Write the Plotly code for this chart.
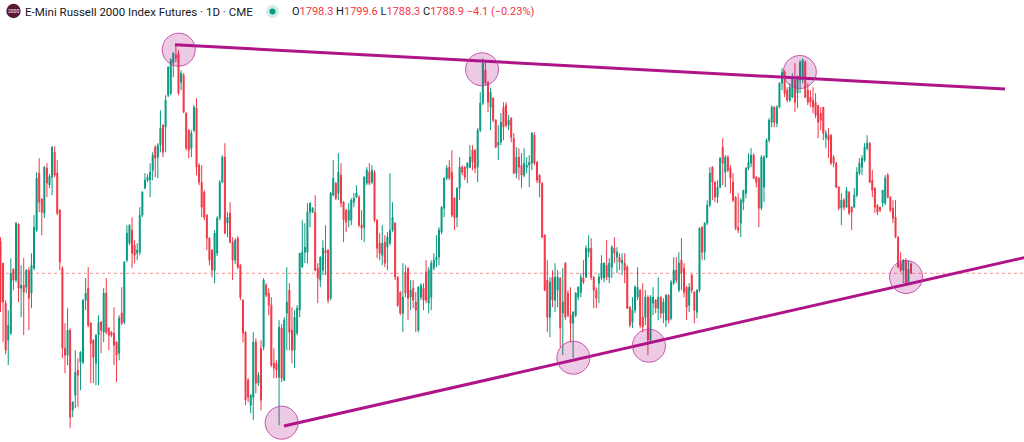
import plotly.graph_objects as go

# ---------------- data (daily OHLC) ----------------
opens = [
    1821,1799,1759,1722,1729,1793,1782,1838,1774,1777,1775,1792,1769,1794,1832,1889,1863,1849,1894,1877,
    1885,1910,1889,1852,1794,1714,1707,1732,1652,1667,1692,1700,1700,1762,1774,1739,1722,1699,1727,1740,
    1730,1769,1734,1730,1729,1720,1709,1749,1740,1802,1819,1832,1817,1809,1810,1847,1874,1882,1882,1892,
    1915,1905,1917,1937,1935,1967,1969,1999,2007,2009,1980,1987,1949,1932,1914,1932,1954,1897,1880,1870,
    1847,1824,1812,1792,1809,1844,1880,1905,1839,1849,1820,1802,1824,1797,1762,1730,1682,1657,1665,1720,
    1679,1714,1715,1777,1769,1757,1699,1699,1685,1734,1682,1749,1772,1732,1712,1729,1752,1795,1810,1810,
    1850,1850,1850,1794,1782,1792,1812,1812,1764,1867,1879,1869,1887,1860,1852,1842,1842,1860,1865,1865,
    1837,1835,1879,1890,1880,1890,1842,1819,1807,1820,1815,1819,1832,1839,1785,1770,1749,1790,1794,1765,
    1774,1760,1732,1765,1774,1790,1759,1765,1794,1802,1805,1830,1854,1884,1895,1890,1864,1845,1874,1895,
    1895,1894,1895,1912,1912,1895,1932,1959,1992,1980,1955,1964,1942,1917,1920,1955,1957,1937,1944,
    1924,1889,1905,1897,1887,1895,1897,1899,1927,1900,1887,1879,1827,1782,1745,1785,1762,1772,1784,
    1749,1799,1769,1747,1739,1747,1765,1770,1784,1785,1810,1814,1785,1772,1779,1784,1784,1797,1785,
    1795,1814,1805,1805,1799,1799,1795,1755,1740,1752,1765,1772,1745,1745,1765,1722,1759,1762,1754,
    1765,1749,1742,1767,1744,1779,1792,1772,1802,1794,1775,1757,1787,1770,1750,1772,1835,1810,1839,
    1857,1895,1880,1865,1875,1915,1890,1905,1894,1880,1865,1835,1839,1860,1869,1894,1899,1907,1885,
    1884,1854,1875,1905,1922,1940,1955,1939,1955,1979,1990,1972,1962,1965,1982,1969,1982,1985,
    2000,1972,1965,1962,1960,1957,1949,1955,1924,1927,1927,1905,1899,1875,1854,1862,1855,1870,1855,
    1855,1867,1889,1895,1902,1914,1919,1882,1874,1857,1855,1859,1859,1887,1865,1854,1845,1825,1799,1792,1802,1780,1798.3,
]
highs = [
    1825,1799,1762,1752,1804,1794,1840,1839,1797,1804,1793,1795,1809,1847,1890,1904,1864,1896,1899,1888,
    1916,1916,1902,1853,1796,1739,1754,1734,1661,1712,1704,1711,1763,1784,1795,1740,1723,1728,1747,1741,
    1774,1784,1735,1731,1755,1721,1747,1775,1801,1837,1838,1845,1822,1819,1855,1871,1889,1888,1899,1910,
    1917,1919,1952,1938,1967,1996,2004,2010,2017,2012,1992,1989,1950,1933,1932,1957,1964,1899,1897,1872,
    1848,1825,1813,1832,1846,1882,1907,1919,1850,1860,1825,1824,1826,1798,1763,1731,1684,1668,1730,1724,
    1690,1722,1784,1779,1774,1765,1714,1702,1742,1738,1745,1795,1779,1755,1752,1757,1809,1842,1839,1859,
    1860,1855,1867,1799,1806,1822,1837,1813,1870,1902,1880,1909,1899,1861,1853,1859,1864,1869,1877,1867,
    1852,1886,1895,1899,1897,1892,1843,1829,1837,1827,1830,1889,1860,1840,1786,1771,1799,1797,1795,1782,
    1782,1770,1776,1779,1779,1802,1795,1802,1809,1827,1835,1856,1885,1897,1902,1912,1865,1875,1905,1897,
    1896,1900,1917,1917,1913,1934,1970,2004,2000,1981,1974,1965,1943,1937,1949,1960,1960,1947,1945,
    1929,1915,1914,1909,1914,1905,1907,1930,1930,1901,1888,1880,1828,1802,1785,1792,1799,1792,1785,
    1794,1800,1772,1775,1751,1770,1776,1789,1802,1817,1827,1824,1786,1775,1789,1807,1800,1822,1804,
    1817,1825,1815,1809,1809,1809,1797,1756,1765,1777,1795,1773,1779,1772,1767,1767,1775,1763,1785,
    1766,1764,1768,1768,1782,1805,1805,1810,1824,1799,1776,1779,1788,1771,1773,1835,1836,1840,1862,
    1895,1896,1881,1882,1905,1924,1907,1907,1897,1889,1866,1869,1864,1872,1895,1909,1914,1909,1886,
    1885,1907,1907,1924,1944,1957,1956,1957,1980,1994,1992,1975,1979,1989,1999,1987,2002,2004,
    2002,1979,1972,1975,1969,1957,1955,1955,1932,1934,1928,1907,1900,1876,1869,1864,1875,1871,1856,
    1874,1895,1904,1907,1919,1927,1920,1892,1875,1858,1855,1872,1887,1889,1866,1862,1862,1826,1810,1803,1804,1802,1799.6,
]
lows = [
    1750,1720,1708,1697,1727,1772,1780,1760,1745,1727,1769,1732,1754,1792,1830,1850,1827,1844,1865,1874,
    1867,1885,1847,1792,1704,1689,1697,1634,1645,1654,1655,1672,1698,1752,1735,1679,1679,1677,1677,1709,
    1720,1728,1712,1725,1697,1680,1702,1737,1738,1800,1817,1794,1799,1802,1807,1845,1873,1880,1865,1882,
    1885,1884,1910,1905,1910,1965,1967,1985,2000,1967,1972,1949,1912,1904,1905,1930,1887,1877,1845,1842,
    1812,1797,1785,1779,1806,1842,1879,1828,1825,1819,1782,1798,1793,1762,1720,1657,1660,1649,1642,1669,
    1676,1652,1712,1765,1747,1695,1684,1684,1637,1680,1681,1712,1712,1699,1694,1727,1745,1795,1799,1799,
    1835,1849,1791,1759,1775,1787,1787,1759,1762,1866,1862,1862,1855,1820,1830,1835,1837,1855,1864,1835,
    1822,1820,1877,1877,1878,1840,1804,1802,1797,1795,1792,1817,1830,1782,1755,1747,1730,1765,1742,1752,
    1754,1730,1730,1762,1752,1759,1749,1752,1792,1795,1797,1828,1845,1882,1882,1845,1832,1835,1862,1887,
    1882,1879,1894,1892,1889,1880,1930,1957,1977,1950,1932,1940,1914,1902,1917,1922,1935,1932,1920,
    1888,1884,1882,1874,1885,1889,1875,1892,1897,1879,1865,1824,1771,1730,1725,1755,1750,1755,1715,
    1707,1742,1745,1720,1704,1745,1762,1765,1778,1784,1805,1782,1754,1754,1759,1782,1780,1782,1779,
    1784,1799,1789,1792,1787,1779,1753,1735,1734,1749,1762,1734,1730,1737,1707,1720,1747,1749,1742,
    1744,1739,1735,1739,1742,1777,1779,1770,1772,1765,1742,1750,1769,1739,1744,1770,1802,1802,1837,
    1855,1862,1860,1859,1874,1877,1875,1890,1869,1860,1832,1829,1825,1852,1864,1892,1895,1883,1875,
    1835,1852,1860,1904,1920,1935,1935,1935,1954,1972,1965,1960,1960,1964,1950,1954,1969,1979,
    1964,1957,1955,1949,1944,1924,1932,1922,1914,1904,1897,1895,1874,1852,1837,1852,1854,1847,1832,
    1854,1865,1887,1887,1900,1912,1879,1865,1849,1847,1850,1855,1857,1864,1850,1839,1824,1794,1790,1779,1777,1779,1788.3,
]
closes = [
    1760,1760,1712,1737,1789,1782,1839,1774,1777,1770,1792,1764,1797,1835,1884,1860,1850,1895,1879,1886,
    1915,1887,1849,1800,1714,1707,1732,1645,1660,1690,1687,1710,1762,1769,1737,1719,1705,1727,1740,1732,
    1769,1730,1727,1727,1717,1707,1744,1739,1800,1829,1837,1809,1807,1812,1847,1870,1882,1885,1890,1907,
    1904,1917,1934,1910,1962,1995,2002,2009,2004,1969,1989,1950,1914,1912,1929,1955,1895,1880,1855,1845,
    1824,1802,1792,1829,1844,1880,1905,1829,1845,1820,1802,1822,1795,1765,1729,1662,1665,1667,1720,1679,
    1687,1662,1782,1767,1757,1697,1694,1692,1735,1684,1742,1760,1730,1712,1745,1754,1809,1810,1815,1850,
    1859,1854,1792,1784,1805,1814,1809,1762,1869,1884,1864,1890,1859,1842,1840,1852,1862,1864,1869,1837,
    1834,1885,1892,1879,1892,1842,1814,1809,1819,1799,1825,1832,1845,1785,1757,1749,1765,1769,1764,1772,
    1762,1752,1775,1777,1762,1762,1792,1799,1802,1805,1832,1855,1884,1894,1884,1847,1844,1874,1895,1890,
    1885,1899,1905,1900,1894,1932,1959,1999,1979,1960,1970,1942,1915,1920,1940,1935,1937,1942,1925,
    1889,1905,1895,1887,1899,1897,1900,1929,1899,1882,1879,1825,1772,1745,1780,1762,1785,1785,1734,
    1760,1745,1747,1739,1750,1769,1775,1785,1780,1814,1814,1785,1772,1764,1785,1799,1799,1785,1799,
    1815,1809,1810,1800,1802,1792,1754,1737,1752,1775,1775,1737,1735,1765,1722,1765,1765,1754,1765,
    1749,1760,1767,1742,1780,1792,1782,1799,1789,1770,1755,1775,1772,1752,1772,1834,1810,1839,1857,
    1889,1880,1865,1875,1904,1899,1905,1892,1884,1862,1834,1832,1862,1872,1894,1900,1907,1884,1880,
    1854,1905,1905,1922,1942,1955,1940,1955,1979,1990,1969,1962,1975,1985,1960,1985,2000,2002,
    1965,1960,1960,1955,1947,1940,1942,1929,1929,1922,1899,1899,1875,1854,1862,1855,1872,1849,1850,
    1867,1890,1899,1904,1915,1919,1880,1872,1855,1850,1852,1872,1884,1865,1852,1844,1825,1795,1792,1802,1779,1793,1788.9,
]
assert len(opens) == len(highs) == len(lows) == len(closes), (len(opens), len(highs), len(lows), len(closes))

title_text = "E-Mini Russell 2000 Index Futures · 1D · CME"
logo_text = "2000"

# drawing: two trend lines (bar index, price) and touch circles (bar index, price)
upper_line = [(67.65, 2017.5), (389.45, 1973.2)]
lower_line = [(109.9, 1636.2), (400.0, 1806.4)]
touches = [(69.1, 2012.5), (186.7, 1992.9), (309.9, 1990.2), (351.1, 1785.2),
           (222.1, 1704.5), (251.4, 1716.5), (109.0, 1639.5)]

# ---------------- styling ----------------
UP = "#089981"
DOWN = "#F23645"
DRAW = "#AF1489"
W, H = 1024, 442
n = len(closes)
bars = list(range(n))
step = 910.5 / (n - 1)          # pixel spacing between bars
x_range = [-0.5 / step, (W - 0.5) / step]
y_top = closes[-1] + 273.3      # price at top edge (1 price unit per pixel)
y_range = [y_top - H, y_top]

fig = go.Figure(go.Candlestick(
    x=bars, open=opens, high=highs, low=lows, close=closes,
    increasing=dict(line=dict(color=UP, width=1), fillcolor=UP),
    decreasing=dict(line=dict(color=DOWN, width=1), fillcolor=DOWN),
    whiskerwidth=0, hoverinfo="skip",
))

shapes = []
# last price dotted line
shapes.append(dict(type="line", xref="paper", x0=0, x1=1, yref="y", y0=closes[-1], y1=closes[-1],
                   line=dict(color="rgba(242,54,69,0.55)", width=1, dash="dot"), layer="below"))
for (xa, ya), (xb, yb) in (upper_line, lower_line):
    shapes.append(dict(type="line", xref="x", yref="y", x0=xa, y0=ya, x1=xb, y1=yb,
                       line=dict(color=DRAW, width=3)))
for cx, cy in touches:
    shapes.append(dict(type="circle", xref="x", yref="y", xsizemode="pixel", ysizemode="pixel",
                       xanchor=cx, yanchor=cy, x0=-16.5, x1=16.5, y0=-16.5, y1=16.5,
                       fillcolor="rgba(175,20,137,0.22)", line=dict(color="rgba(190,60,160,0.85)", width=1)))

# header: logo and status dot
def paper_dot(px, py, r, color):
    return dict(type="circle", xref="paper", yref="paper", xsizemode="pixel", ysizemode="pixel",
                xanchor=px / W, yanchor=1 - py / H, x0=-r, x1=r, y0=-r, y1=r,
                fillcolor=color, line=dict(width=0))

shapes.append(paper_dot(13.5, 11, 7.2, "#5C1734"))
shapes.append(paper_dot(272.5, 11.5, 6.5, "rgba(8,153,129,0.18)"))
shapes.append(paper_dot(272.5, 11.5, 3, UP))

prev_close = closes[-2]
chg = closes[-1] - prev_close
pct = chg / prev_close * 100
red = lambda s: f'<span style="color:{DOWN}">{s}</span>'
fmt = lambda v: f"{v:.1f}".replace("-", "\u2212")
ohlc_text = (f"O{red(fmt(opens[-1]))} H{red(fmt(highs[-1]))} L{red(fmt(lows[-1]))} "
             f"C{red(fmt(closes[-1]))} {red(fmt(chg) + ' (' + f'{pct:.2f}'.replace('-', chr(8722)) + '%)')}")

FONT = "Roboto"
annotations = [
    dict(text=logo_text, xref="paper", yref="paper", x=13.5 / W, y=1 - 11 / H, showarrow=False,
         xanchor="center", yanchor="middle", font=dict(family=FONT, size=5, color="white")),
    dict(text=title_text, xref="paper", yref="paper", x=23 / W, y=1 - 11.5 / H, showarrow=False,
         xanchor="left", yanchor="middle", font=dict(family=FONT, size=11.5, color="#131722")),
    dict(text=ohlc_text, xref="paper", yref="paper", x=290 / W, y=1 - 11.5 / H, showarrow=False,
         xanchor="left", yanchor="middle", font=dict(family=FONT, size=11, color="#131722")),
]

fig.update_layout(
    width=W, height=H, margin=dict(l=0, r=0, t=0, b=0, pad=0),
    paper_bgcolor="white", plot_bgcolor="white", showlegend=False,
    boxgap=0.45,
    xaxis=dict(visible=False, range=x_range, rangeslider=dict(visible=False), fixedrange=True),
    yaxis=dict(visible=False, range=y_range, fixedrange=True),
    shapes=shapes, annotations=annotations, hovermode=False,
)

fig.write_html("out.html", config={"displayModeBar": False},
               post_script="document.body.style.margin='0';document.body.style.overflow='hidden';")
